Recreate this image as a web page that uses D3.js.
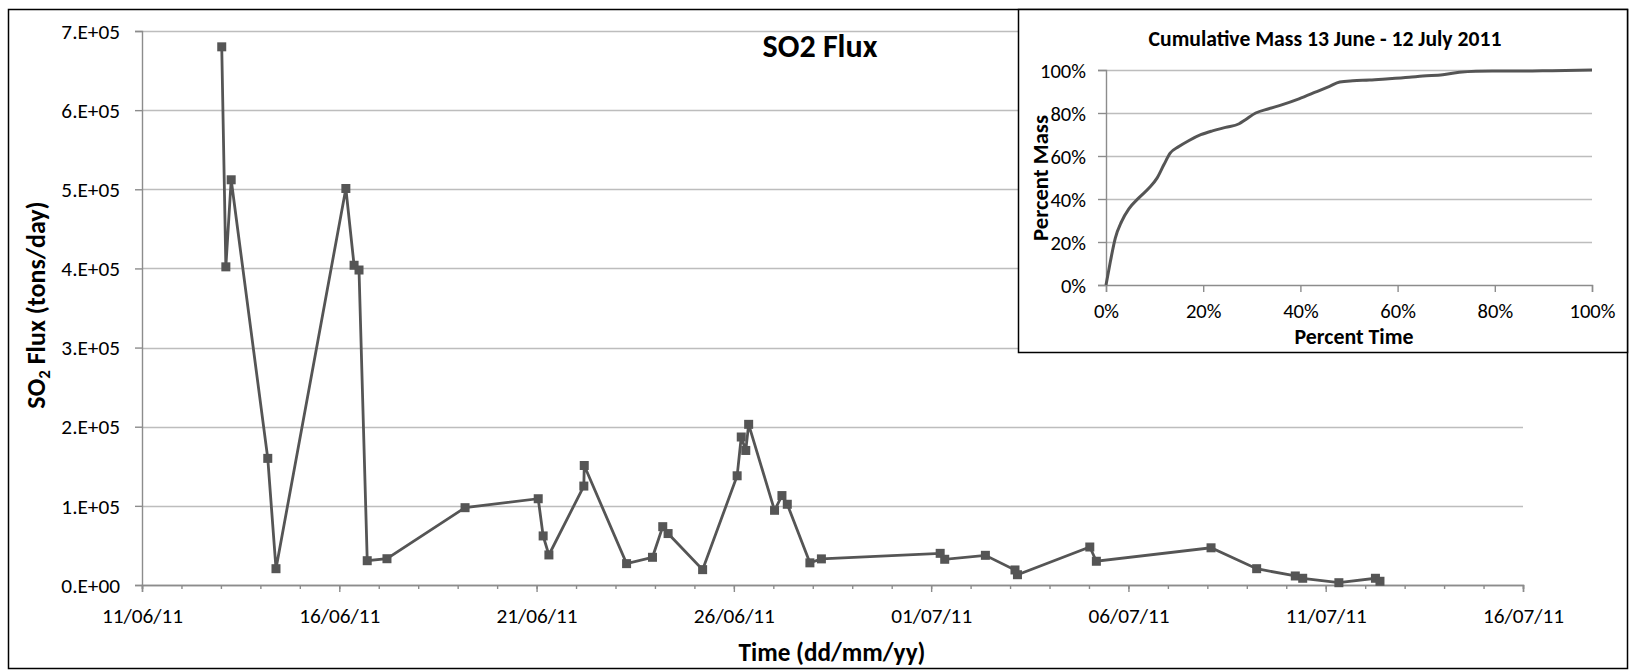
<!DOCTYPE html>
<html><head><meta charset="utf-8">
<script src="https://cdn.jsdelivr.net/npm/d3@7"></script>
<style>
body{margin:0;background:#fff;}
svg text{font-family:Carlito, Lato, "Open Sans", sans-serif;fill:#000;}
</style></head><body>
<svg id="chart" width="1630" height="671"></svg>
<script>
// ---------- data ----------
const fluxTimes = [
 "2011-06-13 00:30","2011-06-13 03:00","2011-06-13 06:15","2011-06-14 04:30","2011-06-14 09:30",
 "2011-06-16 04:00","2011-06-16 09:00","2011-06-16 12:00","2011-06-16 17:00","2011-06-17 05:00",
 "2011-06-19 04:30","2011-06-21 01:00","2011-06-21 04:00","2011-06-21 07:30","2011-06-22 04:45",
 "2011-06-22 05:00","2011-06-23 06:45","2011-06-23 22:30","2011-06-24 04:45","2011-06-24 08:00",
 "2011-06-25 05:00","2011-06-26 02:00","2011-06-26 04:30","2011-06-26 07:15","2011-06-26 09:00",
 "2011-06-27 00:45","2011-06-27 05:15","2011-06-27 08:30","2011-06-27 22:15","2011-06-28 05:15",
 "2011-07-01 05:30","2011-07-01 08:15","2011-07-02 09:00","2011-07-03 03:00","2011-07-03 04:30",
 "2011-07-05 00:30","2011-07-05 04:30","2011-07-08 02:15","2011-07-09 06:00","2011-07-10 05:30",
 "2011-07-10 10:00","2011-07-11 08:00","2011-07-12 06:15","2011-07-12 09:00"];
const fluxValues = [
 680000,402000,512000,160000,20600,
 501000,404000,398000,30700,33200,
 97700,109000,62000,38000,125000,
 151000,27000,35000,73700,65000,
 19400,138000,187000,170000,203000,
 94400,113000,102000,28000,33000,
 40000,32500,37500,19000,13000,
 48000,30000,47000,20600,11400,
 8500,2900,8500,4700];
const yTickValues = [0,100000,200000,300000,400000,500000,600000,700000];
const yTickLabels = ["0.E+00","1.E+05","2.E+05","3.E+05","4.E+05","5.E+05","6.E+05","7.E+05"];
const xDomainLabels = ["11/06/11","16/07/11"];
const xTickLabels = ["11/06/11","16/06/11","21/06/11","26/06/11","01/07/11","06/07/11","11/07/11","16/07/11"];

const cumTimePct = [0,0.9,1.9,3.2,4.7,6.7,8.8,10.5,11.9,13.2,15.0,17.0,19.5,21.9,24.6,27.4,28.7,30.8,33.5,36.3,39.7,43.2,46.0,48.1,50.8,54.2,57.6,62.4,65.2,69.3,72.7,76.1,79.5,85.0,91.8,100];
const cumMassPct = [0,10.9,21.7,29.5,35.4,40.4,45.0,49.7,55.9,61.3,64.4,67.1,69.9,71.7,73.3,75.0,76.9,80.0,82.0,83.9,86.6,89.8,92.4,94.4,95.0,95.3,95.8,96.6,97.2,97.8,98.9,99.4,99.5,99.5,99.7,100];
const insetTickValues = [0,20,40,60,80,100];
const insetTickLabels = ["0%","20%","40%","60%","80%","100%"];

const mainTitle = "SO2 Flux";
const xTitle = "Time (dd/mm/yy)";
const insetTitle = "Cumulative Mass 13 June - 12 July 2011";
const insetXTitle = "Percent Time";
const insetYTitle = "Percent Mass";

// ---------- styles / layout ----------
const C = {line:"#555555", grid:"#bdbdbd", axis:"#8c8c8c", border:"#000"};
const svg = d3.select("#chart");
const parseT = d3.timeParse("%Y-%m-%d %H:%M");
const parseD = d3.timeParse("%d/%m/%y");
const flux = fluxTimes.map((t,i)=>({t:parseT(t), v:fluxValues[i]}));

// font-size that gives a string a target width in the installed font
function fitSize(str, target, bold){
  const t = svg.append("text").style("font-size","100px").style("font-weight",bold?"bold":"normal").text(str);
  const w = t.node().getComputedTextLength(); t.remove();
  return 100*target/w;
}
const tickFS = (fitSize("11/06/11",82) + fitSize("7.E+05",58))/2;
const insetTickFS = fitSize("100%",46);
const titleFS = fitSize(mainTitle,115,true);
const xTitleFS = fitSize(xTitle,187,true);
const yTitleFS = fitSize("SO2 Flux (tons/day)",212,true);
const insetTitleFS = fitSize(insetTitle,353,true);
const insetXTitleFS = fitSize(insetXTitle,119,true);
const insetYTitleFS = fitSize(insetYTitle,126,true);

// outer border
svg.append("rect").attr("x",8.5).attr("y",9.5).attr("width",1619).attr("height",659)
  .attr("fill","#fff").attr("stroke",C.border).attr("stroke-width",1.5);

const x = d3.scaleTime().domain(xDomainLabels.map(parseD)).range([142,1523]);
const y = d3.scaleLinear().domain([0,700000]).range([585,31]);

// gridlines
svg.append("g").selectAll("line").data(yTickValues.filter(v=>v>0)).join("line")
  .attr("x1",142).attr("x2",1523).attr("y1",d=>Math.round(y(d))+0.5).attr("y2",d=>Math.round(y(d))+0.5)
  .attr("stroke",C.grid).attr("stroke-width",1.5);

// x axis: minor daily ticks
const gxMinor = svg.append("g").attr("transform","translate(0,585)")
  .call(d3.axisBottom(x).tickValues(d3.timeDay.range(x.domain()[0], d3.timeDay.offset(x.domain()[1],1))).tickSize(4).tickFormat(""));
const gx = svg.append("g").attr("transform","translate(0,585)")
  .call(d3.axisBottom(x).tickValues(xTickLabels.map(parseD)).tickSize(7).tickFormat((d,i)=>xTickLabels[i]));
[gxMinor,gx].forEach(g=>{g.selectAll("path,line").attr("stroke",C.axis).attr("stroke-width",1.4);});
gx.selectAll("text").attr("y",38).attr("dy",0).style("font-size",tickFS+"px");

// y axis
const gy = svg.append("g").attr("transform","translate(142,0)")
  .call(d3.axisLeft(y).tickValues(yTickValues).tickSize(7).tickPadding(15).tickFormat((d,i)=>yTickLabels[i]));
gy.selectAll("path,line").attr("stroke",C.axis).attr("stroke-width",1.4);
gy.selectAll("text").attr("dy","0.34em").style("font-size",tickFS+"px");

// line + markers
svg.append("path").datum(flux)
  .attr("d",d3.line().x(d=>x(d.t)).y(d=>y(d.v)))
  .attr("fill","none").attr("stroke",C.line).attr("stroke-width",2.8);
svg.append("g").selectAll("rect").data(flux).join("rect")
  .attr("x",d=>x(d.t)-4.5).attr("y",d=>y(d.v)-4.5).attr("width",9).attr("height",9)
  .attr("fill",C.line);

// titles
svg.append("text").attr("x",820).attr("y",57).attr("text-anchor","middle")
  .style("font-size",titleFS+"px").style("font-weight","bold").text(mainTitle);
svg.append("text").attr("x",832).attr("y",661).attr("text-anchor","middle")
  .style("font-size",xTitleFS+"px").style("font-weight","bold").text(xTitle);
const yt = svg.append("text").attr("transform","translate(45,305) rotate(-90)").attr("text-anchor","middle")
  .style("font-size",yTitleFS+"px").style("font-weight","bold");
yt.append("tspan").text("SO");
yt.append("tspan").attr("dy",5).style("font-size",(yTitleFS*0.65)+"px").text("2");
yt.append("tspan").attr("dy",-5).text(" Flux (tons/day)");

// ---------- inset ----------
const ins = svg.append("g");
ins.append("rect").attr("x",1018.5).attr("y",9.5).attr("width",1627.5-1018.5).attr("height",343)
  .attr("fill","#fff").attr("stroke",C.border).attr("stroke-width",1.5);
const ix = d3.scaleLinear().domain([0,100]).range([1106,1592]);
const iy = d3.scaleLinear().domain([0,100]).range([285,70]);
ins.append("g").selectAll("line").data(insetTickValues.filter(v=>v>0)).join("line")
  .attr("x1",1106).attr("x2",1592).attr("y1",d=>Math.round(iy(d))+0.5).attr("y2",d=>Math.round(iy(d))+0.5)
  .attr("stroke",C.grid).attr("stroke-width",1.5);
const igx = ins.append("g").attr("transform","translate(0,285)")
  .call(d3.axisBottom(ix).tickValues(insetTickValues).tickSize(7).tickFormat((d,i)=>insetTickLabels[i]));
igx.selectAll("path,line").attr("stroke",C.axis).attr("stroke-width",1.4);
igx.selectAll("text").attr("y",33).attr("dy",0).style("font-size",insetTickFS+"px");
const igy = ins.append("g").attr("transform","translate(1106,0)")
  .call(d3.axisLeft(iy).tickValues(insetTickValues).tickSize(8).tickPadding(12).tickFormat((d,i)=>insetTickLabels[i]));
igy.selectAll("path,line").attr("stroke",C.axis).attr("stroke-width",1.4);
igy.selectAll("text").attr("dy","0.34em").style("font-size",insetTickFS+"px");
ins.append("path").datum(cumTimePct.map((t,i)=>[t,cumMassPct[i]]))
  .attr("d",d3.line().x(d=>ix(d[0])).y(d=>iy(d[1])).curve(d3.curveMonotoneX))
  .attr("fill","none").attr("stroke",C.line).attr("stroke-width",3);
ins.append("text").attr("x",1325).attr("y",46).attr("text-anchor","middle")
  .style("font-size",insetTitleFS+"px").style("font-weight","bold").text(insetTitle);
ins.append("text").attr("x",1354).attr("y",344).attr("text-anchor","middle")
  .style("font-size",insetXTitleFS+"px").style("font-weight","bold").text(insetXTitle);
ins.append("text").attr("transform","translate(1048,178) rotate(-90)").attr("text-anchor","middle")
  .style("font-size",insetYTitleFS+"px").style("font-weight","bold").text(insetYTitle);
</script>
</body></html>
